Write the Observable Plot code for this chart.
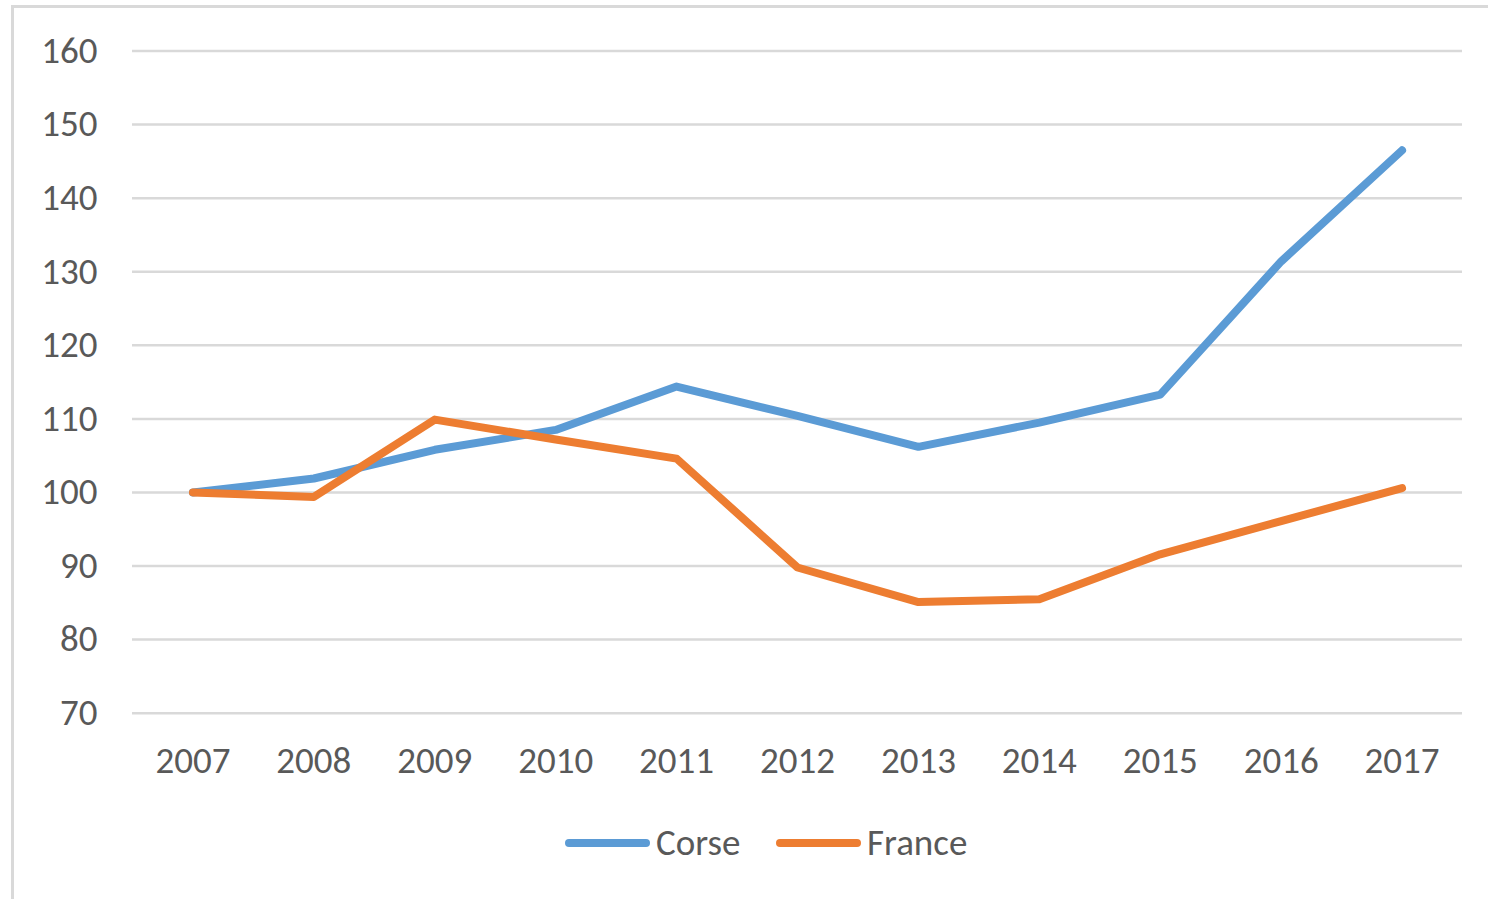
<!DOCTYPE html>
<html>
<head>
<meta charset="utf-8">
<script src="https://cdn.jsdelivr.net/npm/d3@7"></script>
<script src="https://cdn.jsdelivr.net/npm/@observablehq/plot@0.6"></script>
<style>
  html, body { margin: 0; padding: 0; background: #fff; overflow: hidden; }
  body { width: 1488px; height: 899px; position: relative; font-family: Calibri, Carlito, "Liberation Sans", Arial, sans-serif; }
  #frame { position: absolute; left: 11px; top: 5px; width: 1600px; height: 1000px;
           border-top: 3px solid #d9d9d9; border-left: 3px solid #d9d9d9; box-sizing: border-box; }
  #chart { position: absolute; left: 0; top: 0; }
  .legend { position: absolute; top: 823px; height: 40px; display: flex; align-items: center; color: #595959; font-size: 37px; line-height: 40px; }
  .sw { width: 85px; height: 8px; border-radius: 4px; margin-right: 6px; }
</style>
</head>
<body>
<div id="frame"></div>
<div id="chart"></div>
<div class="legend" style="left:565px"><div class="sw" style="background:#5B9BD5"></div><span>Corse</span></div>
<div class="legend" style="left:776px"><div class="sw" style="background:#ED7D31"></div><span>France</span></div>
<script>
const years = ["2007","2008","2009","2010","2011","2012","2013","2014","2015","2016","2017"];
const corse  = [100, 101.9, 105.8, 108.5, 114.4, 110.4, 106.2, 109.5, 113.3, 131.4, 146.5];
const france = [100, 99.4, 109.9, 107.2, 104.6, 89.8, 85.1, 85.5, 91.6, 96.1, 100.6];
const seriesNames = ["Corse", "France"];
const seriesColors = ["#5B9BD5", "#ED7D31"];
const yTicks = [70, 80, 90, 100, 110, 120, 130, 140, 150, 160];

const data = [];
years.forEach((y, i) => {
  data.push({year: y, value: corse[i], series: "Corse"});
  data.push({year: y, value: france[i], series: "France"});
});

const chart = Plot.plot({
  width: 1488,
  height: 800,
  marginLeft: 132,
  marginRight: 26,
  marginTop: 50.5,
  marginBottom: 87.3,
  style: {fontSize: "37px", fontFamily: 'Calibri, Carlito, "Liberation Sans", Arial, sans-serif', color: "#595959", background: "transparent"},
  x: {type: "point", domain: years, padding: 0.5, round: false, label: null},
  y: {domain: [70, 160], label: null},
  color: {domain: seriesNames, range: seriesColors},
  marks: [
    Plot.ruleY(yTicks, {stroke: "#d9d9d9", strokeWidth: 2.5}),
    Plot.axisY({ticks: yTicks, tickSize: 0, tickPadding: 35, label: null}),
    Plot.axisX({tickSize: 0, tickPadding: 34, label: null}),
    Plot.line(data, {x: "year", y: "value", z: "series", stroke: "series", strokeWidth: 8, strokeLinecap: "round", strokeLinejoin: "round"})
  ]
});
document.getElementById("chart").appendChild(chart);
</script>
</body>
</html>
